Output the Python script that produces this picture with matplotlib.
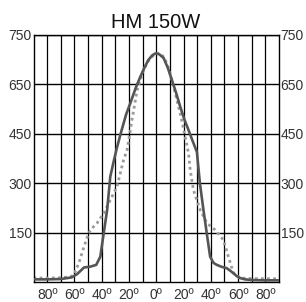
import matplotlib
matplotlib.use("Agg")
import matplotlib.pyplot as plt
import numpy as np

title = "HM 150W"
# solid curve (angle in degrees, intensity)
solid_angle = [-90, -80, -70, -62, -58, -53, -48, -44, -41, -38.5, -36, -33.7, -31, -29, -26, -22, -19, -15, -11.7, -8.5, -5.8, -3, -0.7,
               2, 5.4, 8.5, 11.5, 14.5, 17.6, 20.5, 23.7, 26.5, 29.8, 32, 34.6, 37, 39.5, 42, 44.4, 48, 51.7, 54, 56.5, 59, 61.5, 65, 70, 80, 90]
solid_val = [8, 8, 9, 14, 24, 44, 47, 52, 77, 149, 219, 320, 370, 405, 452, 510, 543, 590, 623, 652, 674, 688, 694,
             692, 680, 650, 613, 575, 532, 495, 461, 430, 395, 300, 219, 149, 77, 58, 52, 46, 42, 35, 27, 18, 12, 8, 6, 5, 5]
# dotted curve
dot_angle = [-90, -80, -70, -63, -60.5, -56.8, -53, -49.5, -46, -43.4, -38.5, -33.7, -28.8, -24, -21.4, -17.8, -14, -9.3, -6, -3.2, 0,
             2.9, 5, 7.8, 10, 12.7, 15, 17.6, 21.2, 23.7, 24.9, 27.3, 32.2, 37.1, 43.2, 49.2, 52.9, 56.6, 61.5, 66, 75, 90]
dot_val = [12, 12, 13, 16, 21, 57, 107, 149, 168, 179, 209, 249, 289, 370, 401, 492, 583, 644, 670, 684, 694,
           694, 685, 664, 635, 593, 555, 512, 441, 390, 340, 279, 219, 179, 158, 128, 77, 27, 12, 11, 10, 10]

ytick_pos = [150, 300, 450, 600, 750]
ytick_labels = ["150", "300", "450", "650", "750"]
xtick_pos = [-80, -60, -40, -20, 0, 20, 40, 60, 80]
xtick_labels = ["80º", "60º", "40º", "20º", "0º", "20º", "40º", "60º", "80º"]

FAM = "Liberation Sans"
LBL = "#333333"
FS = 10

fig = plt.figure(figsize=(3.06, 3.02), dpi=100)
ax = fig.add_axes([33.5/306, 1-282/302, (279-33.5)/306, (282-35)/302])

for x in range(-80, 90, 10):
    ax.axvline(x, color="black", lw=0.9, zorder=1)
for y in ytick_pos:
    ax.axhline(y, color="black", lw=1.0, zorder=1)

ax.plot(dot_angle, dot_val, color="#9a9a9a", lw=2.0, linestyle=(0, (1, 1.2)), zorder=2)
ax.plot(solid_angle, solid_val, color="#555555", lw=1.9, zorder=3, solid_capstyle="round")

ax.set_xlim(-90, 90)
ax.set_ylim(0, 750)
ax.set_xticks(xtick_pos)
ax.set_xticklabels(xtick_labels)
ax.set_yticks(ytick_pos)
ax.set_yticklabels(ytick_labels)
ax.tick_params(axis="both", length=0, labelsize=FS, colors=LBL)
ax.tick_params(axis="y", pad=1.2, labelright=True, right=False)
ax.tick_params(axis="x", pad=4)
for tick in ax.xaxis.get_major_ticks():
    tick.label1.set_family(FAM)
for tick in ax.yaxis.get_major_ticks():
    tick.label1.set_family(FAM)
    tick.label2.set_family(FAM)
    tick.label2.set_color(LBL)
    tick.label2.set_fontsize(FS)
for s in ax.spines.values():
    s.set_color("black")
    s.set_linewidth(1.0)

fig.text(156/306, 1-28/302, title, ha="center", va="baseline", fontsize=14.5,
         family=FAM, color="#111111")

fig.savefig("out.png", dpi=100)
